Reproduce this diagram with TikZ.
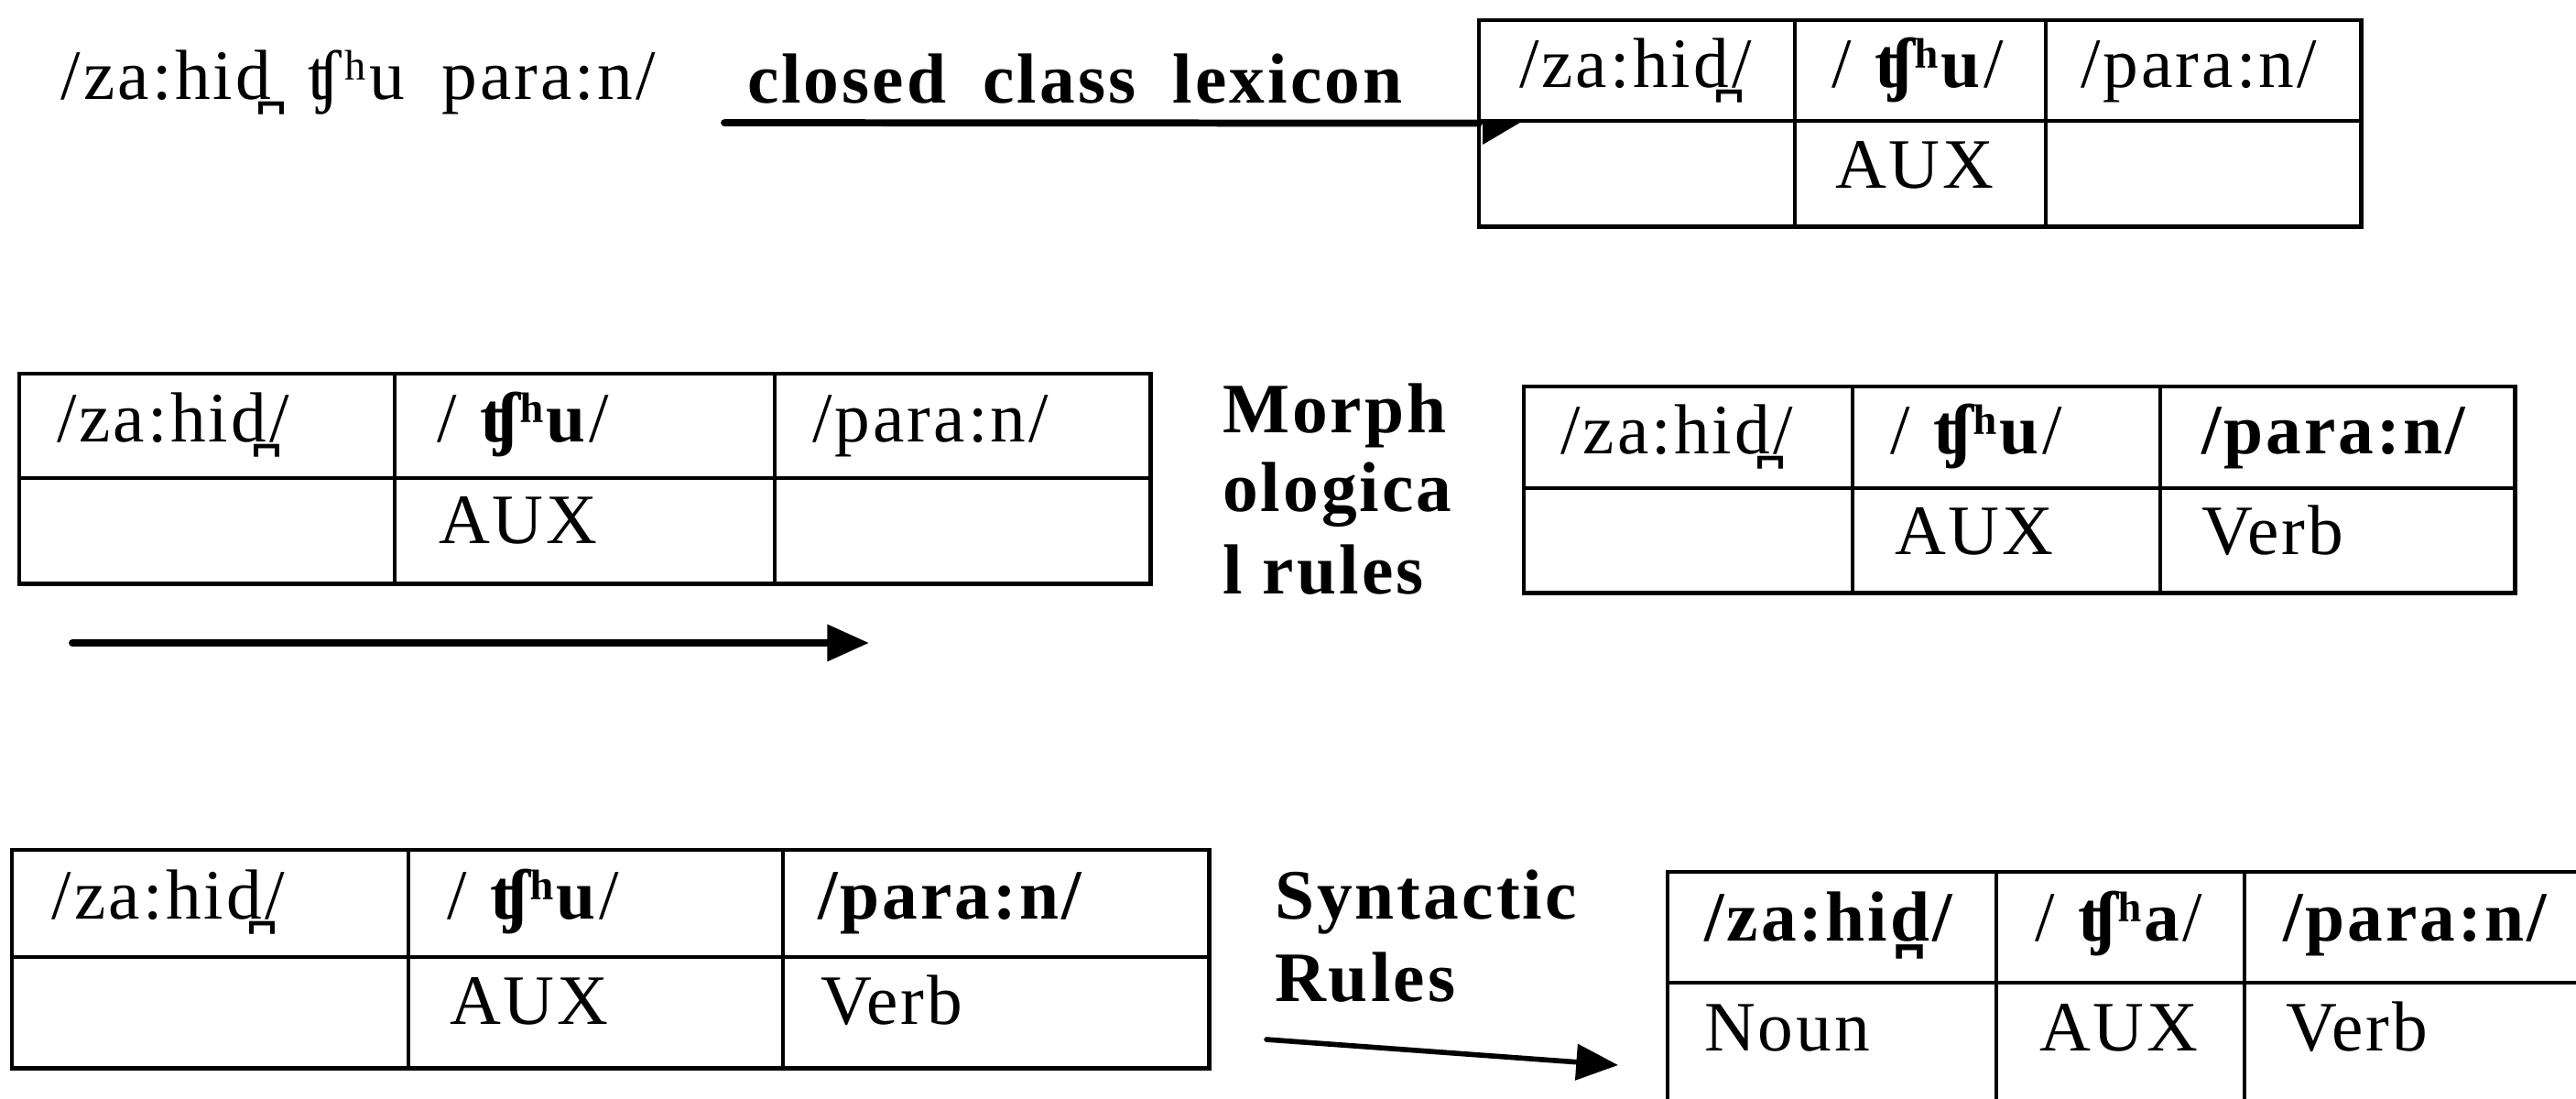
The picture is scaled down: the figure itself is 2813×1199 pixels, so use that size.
\documentclass[tikz,border=0pt]{standalone}
\usepackage{fontspec}
\setmainfont{Liberation Serif}[LetterSpace=4]
\usetikzlibrary{arrows.meta}
\begin{document}
\begin{tikzpicture}[x=0.01cm,y=-0.01cm,
  every node/.style={inner sep=0pt, outer sep=0pt, font=\fontsize{22}{26}\selectfont, anchor=base west},
  lbl/.style={font=\fontsize{22}{26}\selectfont\bfseries},
  tframe/.style={draw, line width=1.4pt, minimum width=#1, anchor=north west},
  tvert/.style={line width=1pt},
  thoriz/.style={line width=1.4pt},
  conn/.style={line width=#1, line cap=round},
  tip/.style={-{Triangle[length=13pt,width=11pt]}}
]
\useasboundingbox (0,0) rectangle (2813,1199);

% ---------- row 1 ----------
\node (src) at (67,108) {/za:hid̪\hspace{11.5pt}ʧʰu\hspace{11.5pt}para:n/};
\node[lbl] (lex) at (816,112) {closed\hspace{5pt} class\hspace{5pt} lexicon};
\node[tframe=9.63cm, minimum height=2.25cm] (t1) at (1615,22) {};
\draw[tvert] (1960,22) -- (1960,247) (2234,22) -- (2234,247);
\draw[thoriz] (1615,132) -- (2578,132);
\node (t1a) at (1659,95) {/za:hid̪/};
\node (t1b) at (2000,95) {/ \textbf{ʧʰu}/};
\node (t1c) at (2272,95) {/para:n/};
\node (t1e) at (2004,205) {AUX};
\coordinate (a1s) at (791,134);
\draw[conn=2.2pt] (a1s) -- (t1.west);
\fill (1619,132) -- (1663,132) -- (1619,158) -- cycle;

% ---------- row 2 ----------
\node[tframe=12.35cm, minimum height=2.29cm] (t2) at (21,408) {};
\draw[tvert] (431,408) -- (431,637) (846,408) -- (846,637);
\draw[thoriz] (21,522) -- (1256,522);
\node (t2a) at (62,482) {/za:hid̪/};
\node (t2b) at (477,482) {/ \textbf{ʧʰu}/};
\node (t2c) at (887,482) {/para:n/};
\node (t2e) at (479,593) {AUX};
\coordinate (a2s) at (79,702);
\coordinate (a2e) at (949,702);
\draw[conn=2.2pt, tip] (a2s) -- (a2e);

\node[lbl] (m1) at (1335,472) {Morph};
\node[lbl] (m2) at (1335,558) {ologica};
\node[lbl] (m3) at (1335,648) {l rules};

\node[tframe=10.82cm, minimum height=2.25cm] (t3) at (1664,422) {};
\draw[tvert] (2023,422) -- (2023,647) (2359,422) -- (2359,647);
\draw[thoriz] (1664,533) -- (2746,533);
\node (t3a) at (1704,495) {/za:hid̪/};
\node (t3b) at (2064,495) {/ \textbf{ʧʰu}/};
\node (t3c) at (2404,495) {\textbf{/para:n/}};
\node (t3e) at (2069,605) {AUX};
\node (t3f) at (2404,605) {Verb};

% ---------- row 3 ----------
\node[tframe=13.07cm, minimum height=2.38cm] (t4) at (13,928) {};
\draw[tvert] (446,928) -- (446,1166) (855,928) -- (855,1166);
\draw[thoriz] (13,1045) -- (1320,1045);
\node (t4a) at (57,1003) {/za:hid̪/};
\node (t4b) at (488,1003) {/ \textbf{ʧʰu}/};
\node (t4c) at (893,1003) {\textbf{/para:n/}};
\node (t4e) at (491,1118) {AUX};
\node (t4f) at (896,1118) {Verb};

\node[lbl] (s1) at (1392,1003) {Syntactic};
\node[lbl] (s2) at (1392,1093) {Rules};
\coordinate (a3s) at (1383,1135);
\coordinate (a3e) at (1767,1163);
\draw[conn=1.6pt, tip] (a3s) -- (a3e);

\node[tframe=10.2cm, minimum height=2.6cm] (t5) at (1821,952) {};
\draw[tvert] (2180,952) -- (2180,1212) (2451,952) -- (2451,1212);
\draw[thoriz] (1821,1073) -- (2841,1073);
\node (t5a) at (1861,1027) {\textbf{/za:hid̪/}};
\node (t5b) at (2222,1027) {/ \textbf{ʧʰa}/};
\node (t5c) at (2493,1027) {\textbf{/para:n/}};
\node (t5d) at (1861,1147) {Noun};
\node (t5e) at (2227,1147) {AUX};
\node (t5f) at (2496,1147) {Verb};
\end{tikzpicture}
\end{document}
